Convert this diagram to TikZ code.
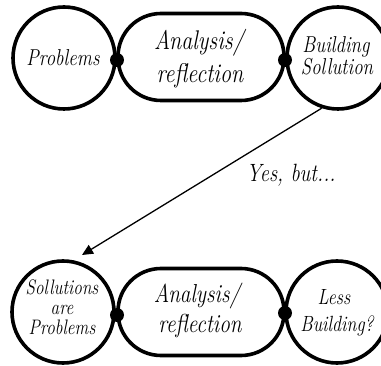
\documentclass[tikz,border=0pt]{standalone}
\usetikzlibrary{arrows.meta}
% narrow italic lettering
\newcommand\narrowtxt[1]{\scalebox{0.82}[1]{#1}}
\begin{document}
\begin{tikzpicture}[x=1pt,y=-1pt,
  ring/.style={circle,draw,line width=3.6pt,minimum size=102pt,inner sep=0pt},
  pill/.style={draw,line width=3.6pt,rounded corners=43pt,minimum width=166pt,minimum height=87pt,inner sep=0pt},
  joint/.style={circle,fill,inner sep=0pt,minimum size=14pt},
  word/.style={anchor=base,inner sep=0pt,font=\itshape}]
\useasboundingbox (0,0) rectangle (381,366);
% upper chain
\node[ring] (p1) at (64,58) {};
\node[pill] (a1) at (201,57) {};
\node[ring] (b1) at (338,58) {};
\node[joint] (j1) at (117,60) {};
\node[joint] (j2) at (285,60) {};
\node[word,font=\itshape\fontsize{23}{23}\selectfont] (t1) at (63,66) {\narrowtxt{Problems}};
\node[word,font=\itshape\fontsize{27}{27}\selectfont] (t2) at (199,50) {\narrowtxt{Analysis/}};
\node[word,font=\itshape\fontsize{27}{27}\selectfont] (t3) at (200,83) {\narrowtxt{reflection}};
\node[word,font=\itshape\fontsize{23}{23}\selectfont] (t4) at (336,53) {\narrowtxt{Building}};
\node[word,font=\itshape\fontsize{23}{23}\selectfont] (t5) at (337,75) {\narrowtxt{Sollution}};
% lower chain
\node[ring] (p2) at (63,312) {};
\node[pill] (a2) at (201,312) {};
\node[ring] (b2) at (337,312) {};
\node[joint] (j3) at (117,315) {};
\node[joint] (j4) at (285,313) {};
\node[word,font=\itshape\fontsize{21}{21}\selectfont] (t6) at (62,295) {\narrowtxt{Sollutions}};
\node[word,font=\itshape\fontsize{21}{21}\selectfont] (t7) at (62,315) {\narrowtxt{are}};
\node[word,font=\itshape\fontsize{21}{21}\selectfont] (t8) at (62,335) {\narrowtxt{Problems}};
\node[word,font=\itshape\fontsize{26}{26}\selectfont] (t9) at (197,303) {\narrowtxt{Analysis/}};
\node[word,font=\itshape\fontsize{26}{26}\selectfont] (t10) at (200,333) {\narrowtxt{reflection}};
\node[word,font=\itshape\fontsize{22}{22}\selectfont] (t11) at (334,305) {\narrowtxt{Less}};
\node[word,font=\itshape\fontsize{22}{22}\selectfont] (t12) at (337,332) {\narrowtxt{Building?}};
% feedback arrow
\coordinate (tip) at (82,255);
\draw[line width=1.3pt,-{Triangle[length=11pt,width=10pt]}] (b1.-108) -- (tip);
\node[word,font=\itshape\fontsize{25}{25}\selectfont] (y) at (291,182) {\narrowtxt{Yes, but...}};
\end{tikzpicture}
\end{document}
